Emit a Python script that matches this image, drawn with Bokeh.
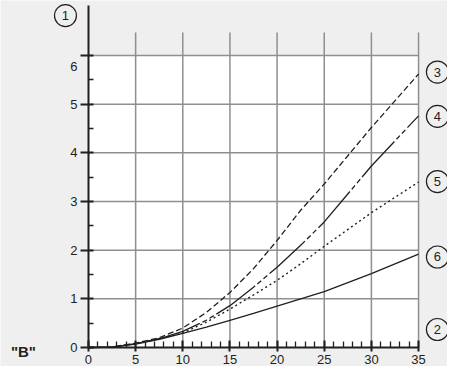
from bokeh.plotting import figure
from bokeh.models import Range1d, LinearAxis, FixedTicker
from bokeh.embed import file_html
from bokeh.resources import INLINE
from bokeh.core.properties import value

# ---- data ----
x_vals = [0, 2.5, 5, 7.5, 10, 12.5, 15, 17.5, 20, 22.5, 25, 30, 35]
curve3 = [0, 0.01, 0.09, 0.20, 0.40, 0.72, 1.13, 1.62, 2.20, 2.82, 3.36, 4.52, 5.62]
curve4 = [0, 0.01, 0.08, 0.18, 0.33, 0.56, 0.86, 1.24, 1.65, 2.10, 2.58, 3.73, 4.76]
curve5 = [0, 0.01, 0.08, 0.18, 0.30, 0.52, 0.79, 1.08, 1.38, 1.72, 2.08, 2.77, 3.40]
curve6 = [0, 0.01, 0.07, 0.17, 0.29, 0.42, 0.56, 0.70, 0.85, 1.00, 1.15, 1.52, 1.92]

x_ticks = [0, 5, 10, 15, 20, 25, 30, 35]
x_minor = list(range(0, 36))
y_ticks = [0, 1, 2, 3, 4, 5, 6]
y_minor = [0.5, 1.5, 2.5, 3.5, 4.5, 5.5]

marker_labels = ["1", "2", "3", "4", "5", "6"]
axis_name = '"B"'

INK = "#231f20"
GRID = "#8f8f8f"
BG = "#efefef"
FONT = "Liberation Sans"

p = figure(width=447, height=366,
           x_range=Range1d(-9.33, 38.07), y_range=Range1d(-0.39, 7.13),
           output_backend="svg", toolbar_location=None,
           x_axis_location=None, y_axis_location=None, min_border=0,
           background_fill_color=BG, border_fill_color=BG,
           outline_line_color=None)
p.xgrid.visible = False
p.ygrid.visible = False

# white plotting area
p.quad(left=[0], right=[x_ticks[-1]], bottom=[0], top=[y_ticks[-1]],
       fill_color="white", line_color=None)

# grid lines
hy = y_ticks[1:]
p.segment(x0=[0] * len(hy), y0=hy, x1=[x_ticks[-1]] * len(hy), y1=hy,
          line_color=GRID, line_width=1.5)
vx = x_ticks[1:]
p.segment(x0=vx, y0=[0] * len(vx), x1=vx, y1=[6.47] * len(vx),
          line_color=GRID, line_width=1.5)

# curves
p.line(x_vals, curve6, line_color=INK, line_width=1.3)
p.line(x_vals, curve5, line_color=INK, line_width=1.4, line_dash="2 3")
p.line(x_vals, curve4, line_color=INK, line_width=1.3, line_dash="48 3 5 3 5 3")
p.line(x_vals, curve3, line_color=INK, line_width=1.3, line_dash="6 3")

# axes
xaxis = LinearAxis(fixed_location=0, bounds=(0, 35),
                   ticker=FixedTicker(ticks=x_ticks, minor_ticks=x_minor))
yaxis = LinearAxis(fixed_location=0, bounds=(0, 7.03),
                   ticker=FixedTicker(ticks=y_ticks, minor_ticks=y_minor))
for ax in (xaxis, yaxis):
    ax.axis_line_color = INK
    ax.axis_line_width = 2
    ax.major_tick_line_color = INK
    ax.major_tick_line_width = 2
    ax.minor_tick_line_color = INK
    ax.minor_tick_line_width = 1.3
    ax.minor_tick_out = 0
    ax.major_label_text_font = FONT
    ax.major_label_text_font_size = "13px"
    ax.major_label_text_color = INK
xaxis.major_tick_in = 7
xaxis.major_tick_out = 4
xaxis.minor_tick_in = 6
xaxis.major_label_standoff = 3
yaxis.major_tick_in = 5
yaxis.major_tick_out = 8
yaxis.minor_tick_in = 5
yaxis.major_label_standoff = 3
# the top label sits a little below its tick in the reference
top_tick = y_ticks[-1]
yaxis.major_label_overrides = {top_tick: ""}
p.add_layout(xaxis, "below")
p.add_layout(yaxis, "left")
p.text([0], [top_tick], text=[str(top_tick)], x_offset=-11, y_offset=11,
       text_align="right", text_baseline="middle", text_font=value(FONT),
       text_font_size="13px", text_color=INK)

# circled markers
mx = [-2.44, 37.0, 37.0, 37.0, 37.0, 37.0]
my = [6.82, 0.37, 5.66, 4.75, 3.41, 1.86]
p.scatter(mx, my, marker="circle", size=22, fill_color=None,
          line_color=INK, line_width=1.2)
p.text(mx, my, text=marker_labels, text_align="center", text_baseline="middle",
       text_font=value(FONT), text_font_size="13px", text_color=INK)

# axis name
p.text([-6.9], [-0.08], text=[axis_name], text_align="center",
       text_baseline="middle", text_font=value(FONT), text_font_size="15px",
       text_font_style="bold", text_color=INK)

open("out.html", "w").write(file_html(p, INLINE))
